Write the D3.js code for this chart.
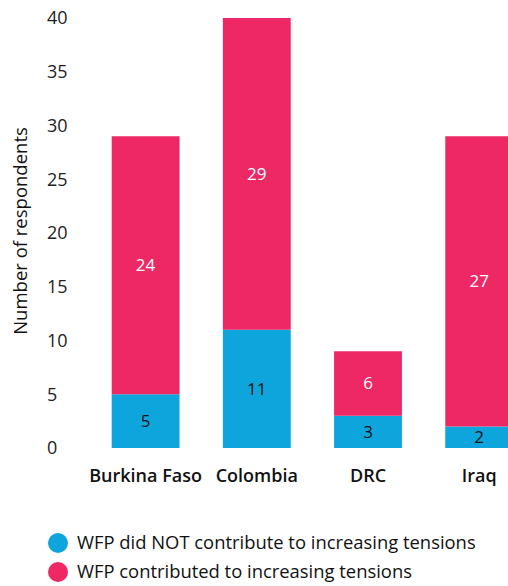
<!DOCTYPE html>
<html>
<head>
<meta charset="utf-8">
<script src="https://cdn.jsdelivr.net/npm/d3@7"></script>
<style>
  html, body { margin: 0; padding: 0; background: #fff; }
  svg { display: block; font-family: "Open Sans", "Noto Sans", sans-serif; }
</style>
</head>
<body>
<svg id="chart" width="508" height="586"></svg>
<script>
const categories = ["Burkina Faso", "Colombia", "DRC", "Iraq"];
const notContributed = [5, 11, 3, 2];
const contributed = [24, 29, 6, 27];
const yTicks = [0, 5, 10, 15, 20, 25, 30, 35, 40];
const seriesNames = ["WFP did NOT contribute to increasing tensions", "WFP contributed to increasing tensions"];
const seriesColors = ["#0ea5dc", "#ee2864"];
const labelColors = ["#111", "#fff"];

const svg = d3.select("#chart");

const x = d3.scaleBand().domain(categories).range([90, 90 + 4 * 111.2]).paddingInner(0.39).paddingOuter(0.195);
const y = d3.scaleLinear().domain([0, 40]).range([448, 18]);

const rows = categories.map((c, i) => ({ cat: c, s0: notContributed[i], s1: contributed[i] }));
const stack = d3.stack().keys(["s0", "s1"])(rows);

// y tick labels
svg.append("g").selectAll("text").data(yTicks).join("text")
  .attr("x", 47).attr("y", d => y(d)).attr("dy", "0.35em")
  .attr("font-size", 18).attr("fill", "#222")
  .text(d => d);

// y title
svg.append("text")
  .attr("transform", `translate(27,${231}) rotate(-90)`)
  .attr("text-anchor", "middle")
  .attr("font-size", 18.5).attr("fill", "#111")
  .text("Number of respondents");

// bars
stack.forEach((layer, si) => {
  const g = svg.append("g");
  g.selectAll("rect").data(layer).join("rect")
    .attr("x", d => x(d.data.cat))
    .attr("width", x.bandwidth())
    .attr("y", d => y(d[1]))
    .attr("height", d => y(d[0]) - y(d[1]))
    .attr("fill", seriesColors[si]);
  g.selectAll("text").data(layer).join("text")
    .attr("x", d => x(d.data.cat) + x.bandwidth() / 2)
    .attr("y", d => (y(d[0]) + y(d[1])) / 2)
    .attr("dy", "0.35em")
    .attr("text-anchor", "middle")
    .attr("font-size", 17)
    .attr("fill", labelColors[si])
    .text(d => d[1] - d[0]);
});

// x labels
svg.append("g").selectAll("text").data(categories).join("text")
  .attr("x", d => x(d) + x.bandwidth() / 2)
  .attr("y", 476).attr("dy", "0.35em")
  .attr("text-anchor", "middle")
  .attr("font-size", 18).attr("font-weight", 600).attr("fill", "#111")
  .text(d => d);

// legend
const lg = svg.append("g").selectAll("g").data(seriesNames).join("g")
  .attr("transform", (d, i) => `translate(58,${543 + i * 29})`);
lg.append("circle").attr("r", 10).attr("fill", (d, i) => seriesColors[i]);
lg.append("text").attr("x", 19).attr("dy", "0.35em")
  .attr("font-size", 18.4).attr("fill", "#111").text(d => d);
</script>
</body>
</html>
